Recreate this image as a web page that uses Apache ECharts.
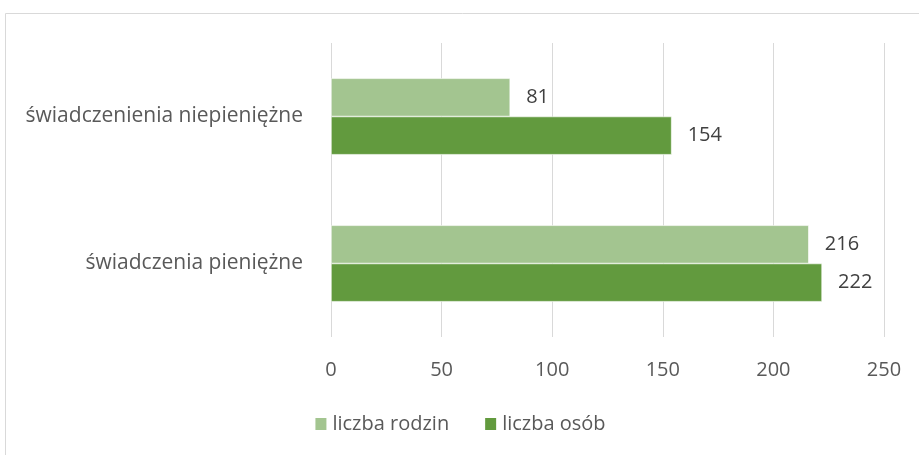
<!DOCTYPE html>
<html>
<head>
    <meta charset="utf-8"/>
    <title>ECharts</title>
    <script src="https://cdn.jsdelivr.net/npm/echarts@6/dist/echarts.min.js"></script>
    <style>
        html, body { margin: 0; padding: 0; background: #fff; }
    </style>
</head>
<body>
<div id="main" style="width: 919px;height:455px;"></div>
<script type="text/javascript">
    // categories (first one is drawn at the bottom)
    var categories = ['świadczenia pieniężne', 'świadczenienia niepieniężne'];
    var rodziny = [216, 81];
    var osoby = [222, 154];
    var xTicks = [0, 50, 100, 150, 200, 250];

    var myChart = echarts.init(document.getElementById('main'));
    var font = '"Open Sans", sans-serif';

    var option = {
        animation: false,
        textStyle: { fontFamily: font },
        graphic: [{
            type: 'rect',
            shape: { x: 5.5, y: 13.5, width: 1000, height: 1000 },
            style: { fill: 'none', stroke: '#d9d9d9', lineWidth: 1 }
        }],
        grid: { left: 331, right: 35, top: 43, bottom: 118 },
        legend: {
            data: ['liczba rodzin', 'liczba osób'],
            bottom: 16,
            left: 'center',
            itemWidth: 13,
            itemHeight: 14,
            itemGap: 34,
            icon: 'rect',
            textStyle: { fontSize: 20, color: '#595959', fontFamily: font }
        },
        xAxis: {
            type: 'value',
            min: xTicks[0],
            max: xTicks[xTicks.length - 1],
            interval: 50,
            axisLine: { show: false },
            axisTick: { show: false },
            splitLine: { lineStyle: { color: '#d9d9d9', width: 1 } },
            axisLabel: { fontSize: 20, color: '#595959', margin: 23, fontFamily: font }
        },
        yAxis: {
            type: 'category',
            data: categories,
            axisLine: { show: false },
            axisTick: { show: false },
            axisLabel: { fontSize: 21, color: '#595959', margin: 28, fontFamily: font }
        },
        series: [
            {
                name: 'liczba rodzin',
                type: 'bar',
                data: rodziny,
                barGap: '0%',
                barCategoryGap: '48%',
                itemStyle: { color: '#a3c590', borderColor: '#ffffff', borderWidth: 0.6 },
                label: { show: true, position: 'right', distance: 16, fontSize: 20, color: '#404040', fontFamily: font }
            },
            {
                name: 'liczba osób',
                type: 'bar',
                data: osoby,
                barGap: '0%',
                barCategoryGap: '48%',
                itemStyle: { color: '#629a3e', borderColor: '#ffffff', borderWidth: 0.6 },
                label: { show: true, position: 'right', distance: 16, fontSize: 20, color: '#404040', fontFamily: font }
            }
        ]
    };

    myChart.setOption(option);
</script>
</body>
</html>
